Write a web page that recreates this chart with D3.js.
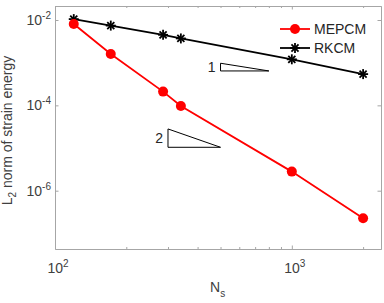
<!DOCTYPE html>
<html>
<head>
<meta charset="utf-8">
<script src="https://cdn.jsdelivr.net/npm/d3@7"></script>
<style>
body { margin: 0; background: #fff; }
svg { font-family: "Liberation Sans", Arial, sans-serif; }
.pathline { fill: none; stroke-width: 1.8; }
</style>
</head>
<body>
<div class="smallBox"></div>
<script>
// data
var ns = [120, 172, 286, 340, 1000, 2000];
var mepcm = [8.05e-3, 1.6e-3, 2.1e-4, 9.7e-5, 2.8e-6, 2.27e-7];
var rkcm = [1.05e-2, 7.4e-3, 4.5e-3, 3.7e-3, 1.2e-3, 5.4e-4];
var xMajor = [100, 1000];
var xMinor = [200, 300, 400, 500, 600, 700, 800, 900, 2000];
var yMajor = [1e-2, 1e-4, 1e-6];
// slope triangles: [x0, x1, yLow, yHigh, label]
var tri1 = [500, 800, 6.4e-4, 9.7e-4, "1"];
var tri2 = [300, 500, 1.04e-5, 2.8e-5, "2"];

var width = 384, height = 303;
var pLeft = 55, pRight = 381, pTop = 6, pBottom = 249;
var axisCol = "#a6a6a6", textCol = "#404040";

var svg = d3.select(".smallBox").append("svg").attr("width", width).attr("height", height);

var x = d3.scaleLog().domain([100, 2380]).range([pLeft, pRight]);
var y = d3.scaleLog().domain([4.3e-8, 2.13e-2]).range([pBottom, pTop]);

// axes box with inward ticks
function styleAxis(g) {
	g.select(".domain").attr("stroke", axisCol);
	g.selectAll(".tick line").attr("stroke", axisCol);
	g.selectAll(".tick text").remove();
}
svg.append("g").attr("transform", "translate(0," + pBottom + ")")
	.call(d3.axisBottom(x).tickValues(xMajor).tickSizeInner(-3.5).tickSizeOuter(0)).call(styleAxis);
svg.append("g").attr("transform", "translate(0," + pBottom + ")")
	.call(d3.axisBottom(x).tickValues(xMinor).tickSizeInner(-2).tickSizeOuter(0)).call(styleAxis);
svg.append("g").attr("transform", "translate(0," + pTop + ")")
	.call(d3.axisTop(x).tickValues(xMajor).tickSizeInner(-3.5).tickSizeOuter(0)).call(styleAxis);
svg.append("g").attr("transform", "translate(0," + pTop + ")")
	.call(d3.axisTop(x).tickValues(xMinor).tickSizeInner(-2).tickSizeOuter(0)).call(styleAxis);
svg.append("g").attr("transform", "translate(" + pLeft + ",0)")
	.call(d3.axisLeft(y).tickValues(yMajor).tickSizeInner(-3.5).tickSizeOuter(0)).call(styleAxis);
svg.append("g").attr("transform", "translate(" + pRight + ",0)")
	.call(d3.axisRight(y).tickValues(yMajor).tickSizeInner(-3.5).tickSizeOuter(0)).call(styleAxis);

// tick labels as 10^n
function powLabel(g, px, py, anchor, val) {
	var t = g.append("text").attr("x", px).attr("y", py).attr("text-anchor", anchor)
		.attr("fill", textCol).attr("font-size", 14);
	t.append("tspan").text("10");
	t.append("tspan").attr("font-size", 10).attr("dy", -6).text(Math.round(Math.log10(val)));
}
xMajor.forEach(function(v) { powLabel(svg, x(v) + 3, 273, "middle", v); });
yMajor.forEach(function(v) { powLabel(svg, pLeft - 4, y(v) + 5, "end", v); });

// axis labels
var yl = svg.append("text").attr("transform", "translate(12," + ((pTop + pBottom) / 2 + 3) + ") rotate(-90)")
	.attr("text-anchor", "middle").attr("fill", textCol).attr("font-size", 14);
yl.append("tspan").text("L");
yl.append("tspan").attr("font-size", 10).attr("dy", 4).text("2");
yl.append("tspan").attr("dy", -4).text(" norm of strain energy");
var xl = svg.append("text").attr("x", 210).attr("y", 292).attr("fill", textCol).attr("font-size", 14);
xl.append("tspan").text("N");
xl.append("tspan").attr("font-size", 10).attr("dy", 5).text("s");

// slope triangles
[tri1, tri2].forEach(function(t) {
	svg.append("path").attr("fill", "none").attr("stroke", "#000").attr("stroke-width", 1)
		.attr("d", "M" + x(t[0]) + "," + y(t[3]) + "L" + x(t[0]) + "," + y(t[2]) + "L" + x(t[1]) + "," + y(t[2]) + "Z");
	svg.append("text").attr("x", x(t[0]) - 5).attr("y", (y(t[2]) + y(t[3])) / 2 + 5)
		.attr("text-anchor", "end").attr("fill", "#262626").attr("font-size", 14).text(t[4]);
});

var line = d3.line().x(function(d, i) { return x(ns[i]); }).y(function(d) { return y(d); });

// RKCM
svg.append("path").data([rkcm]).attr("class", "pathline").attr("stroke", "#000").attr("d", line);
function star(g, cx, cy, r) {
	var s = g.append("g").attr("transform", "translate(" + cx + "," + cy + ")")
		.attr("stroke", "#000").attr("stroke-width", 1.8);
	[0, 45, 90, 135].forEach(function(a) {
		var rad = a * Math.PI / 180;
		s.append("line").attr("x1", -r * Math.cos(rad)).attr("y1", -r * Math.sin(rad))
			.attr("x2", r * Math.cos(rad)).attr("y2", r * Math.sin(rad));
	});
}
rkcm.forEach(function(d, i) { star(svg, x(ns[i]), y(d), 5); });

// MEPCM
svg.append("path").data([mepcm]).attr("class", "pathline").attr("stroke", "#ff0000").attr("d", line);
svg.selectAll(".mdot").data(mepcm).enter().append("circle").attr("class", "mdot")
	.attr("cx", function(d, i) { return x(ns[i]); }).attr("cy", function(d) { return y(d); })
	.attr("r", 5).attr("fill", "#ff0000");

// legend
var lg = svg.append("g");
lg.append("line").attr("x1", 280).attr("x2", 310).attr("y1", 29).attr("y2", 29).attr("stroke", "#ff0000").attr("stroke-width", 1.8);
lg.append("circle").attr("cx", 295).attr("cy", 29).attr("r", 5).attr("fill", "#ff0000");
lg.append("text").attr("x", 314).attr("y", 34).attr("fill", "#262626").attr("font-size", 14).text("MEPCM");
lg.append("line").attr("x1", 280).attr("x2", 310).attr("y1", 48).attr("y2", 48).attr("stroke", "#000").attr("stroke-width", 1.8);
star(lg, 295, 48, 5);
lg.append("text").attr("x", 314).attr("y", 53).attr("fill", "#262626").attr("font-size", 14).text("RKCM");
</script>
</body>
</html>
